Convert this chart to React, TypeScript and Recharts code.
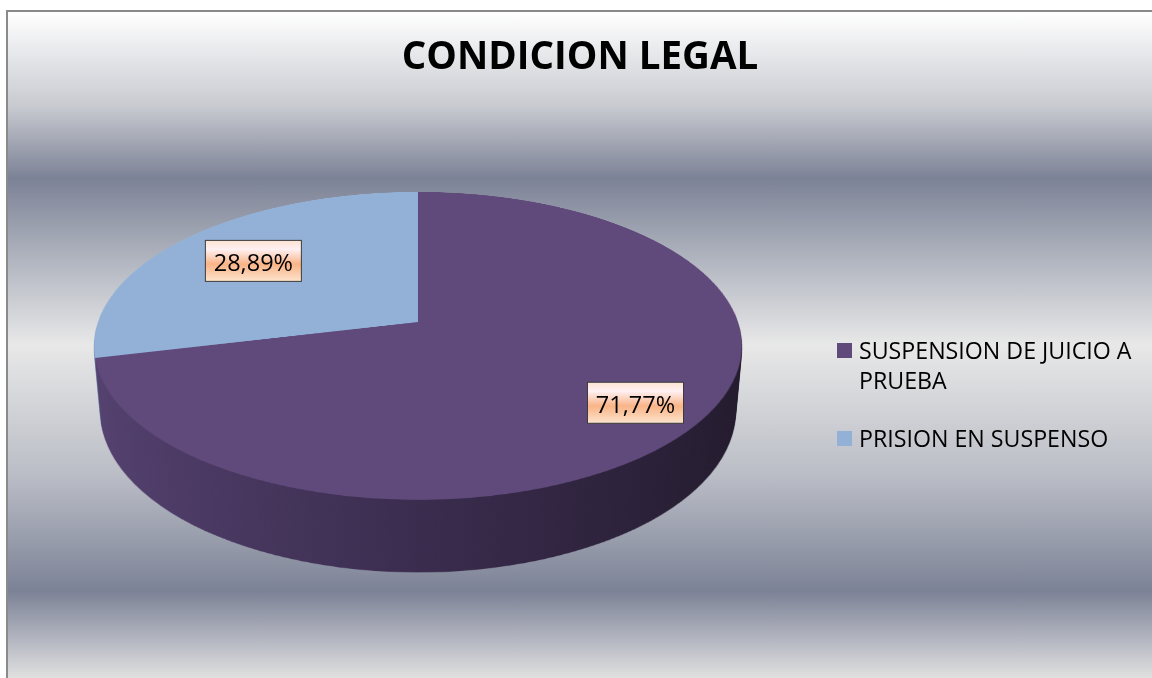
import { PieChart, Pie, Cell, Legend } from "recharts";

// chart data
const categories = ["SUSPENSION DE JUICIO A PRUEBA", "PRISION EN SUSPENSO"];
const shares = [71.77, 28.89];
const topColors = ["#604a7b", "#93b1d7"];
const sideStops = [
  ["#54416f", "#3a2c4e", "#221a2c"],
  ["#7391b8", "#5f7ca2", "#4a6388"],
];
const labelRadius = [0.8, 0.7];

const data = categories.map((name, i) => ({ name, value: shares[i] }));

// 3d geometry of the pie (fitted to the picture)
const R = 320;
const TILT = 62;
const PERSP = 1825;
const DEPTH = 75;
const STEP = 1.5;
const PIE_X = 410;
const PIE_Y = 310;
const BOX = 660;

const sin = Math.sin((TILT * Math.PI) / 180);
const cos = Math.cos((TILT * Math.PI) / 180);

// project a point of the tilted pie plane onto the screen
function project(dx: number, dy: number) {
  const z = dy * sin;
  const k = PERSP / (PERSP - z);
  return { x: dx * k, y: dy * cos * k };
}

const fmt = (v: number) => v.toFixed(2).replace(".", ",") + "%";

function PieLayer({ z, side, id }: { z: number; side: boolean; id: string }) {
  return (
    <div
      style={{
        position: "absolute",
        left: 0,
        top: 0,
        width: BOX,
        height: BOX,
        transform: `translateZ(${-z}px)`,
      }}
    >
      <PieChart width={BOX} height={BOX} margin={{ top: 0, right: 0, bottom: 0, left: 0 }}>
        <defs>
          {sideStops.map((s, i) => (
            <linearGradient key={i} id={`${id}-s${i}`} x1="0" y1="0" x2="1" y2="0">
              <stop offset="0%" stopColor={s[0]} />
              <stop offset="50%" stopColor={s[1]} />
              <stop offset="100%" stopColor={s[2]} />
            </linearGradient>
          ))}
        </defs>
        <Pie
          data={data}
          dataKey="value"
          nameKey="name"
          cx={BOX / 2}
          cy={BOX / 2}
          outerRadius={R}
          startAngle={90}
          endAngle={-270}
          stroke="none"
          isAnimationActive={false}
        >
          {data.map((d, i) => (
            <Cell key={d.name} fill={side ? `url(#${id}-s${i})` : topColors[i]} />
          ))}
        </Pie>
      </PieChart>
    </div>
  );
}

const renderLabel = (p: any) => {
  const a = (-p.midAngle * Math.PI) / 180;
  const r = p.outerRadius * labelRadius[p.index];
  const pt = project(r * Math.cos(a), r * Math.sin(a));
  const x = p.cx + pt.x;
  const y = p.cy + pt.y;
  return (
    <g key={`lbl-${p.index}`}>
      <rect x={x - 48} y={y - 20.5} width={96} height={41} fill="url(#lblGrad)" stroke="#3c3c3c" strokeWidth={1} />
      <text
        x={x}
        y={y + 1}
        textAnchor="middle"
        dominantBaseline="central"
        fontFamily="'Open Sans', sans-serif"
        fontSize={23.5}
        fill="#000"
      >
        {fmt(shares[p.index])}
      </text>
    </g>
  );
};

const renderLegend = () => (
  <div style={{ fontFamily: "'Open Sans', sans-serif", fontSize: 23.2, lineHeight: "30px", color: "#000" }}>
    {categories.map((c, i) => (
      <div key={c} style={{ display: "flex", alignItems: "flex-start", marginBottom: 28 }}>
        <div style={{ width: 15, height: 15, background: topColors[i], marginTop: 8, marginRight: 7, flex: "none" }} />
        <div style={{ width: 286 }}>{c}</div>
      </div>
    ))}
  </div>
);

export default function App() {
  const offsets = Array.from({ length: Math.round(DEPTH / STEP) }, (_, i) => DEPTH - i * STEP);
  return (
    <div
      style={{
        position: "fixed",
        left: 6,
        top: 10,
        width: 1146,
        height: 668,
        boxSizing: "border-box",
        borderTop: "2px solid #8a8a8a",
        borderLeft: "2px solid #8a8a8a",
        overflow: "hidden",
        background:
          "linear-gradient(to bottom, #ffffff 0%, #c9cbd1 14%, #7c8296 25%, #b4b8c2 38%, #e8e8e8 50%, #b9bcc5 70%, #7c8296 87%, #b2b5bf 94%, #e0e0e0 100%)",
      }}
    >
      <div
        style={{
          position: "absolute",
          left: 0,
          top: 0,
          width: "100%",
          height: "100%",
          perspective: `${PERSP}px`,
          perspectiveOrigin: `${PIE_X}px ${PIE_Y}px`,
        }}
      >
        <div
          style={{
            position: "absolute",
            left: PIE_X - BOX / 2,
            top: PIE_Y - BOX / 2,
            width: BOX,
            height: BOX,
            transformStyle: "preserve-3d",
            transform: `rotateX(${TILT}deg)`,
          }}
        >
          {offsets.map((z, i) => (
            <PieLayer key={i} z={z} side id={`side${i}`} />
          ))}
          <PieLayer z={0} side={false} id="top" />
        </div>
      </div>

      <div
        style={{
          position: "absolute",
          left: 0,
          top: 23,
          width: 1144,
          textAlign: "center",
          fontFamily: "'Open Sans', sans-serif",
          fontWeight: 700,
          fontSize: 38.5,
          lineHeight: "38px",
          color: "#000",
          zIndex: 2,
        }}
      >
        CONDICION LEGAL
      </div>

      <div style={{ position: "absolute", left: 0, top: 0, zIndex: 2 }}>
        <PieChart width={1144} height={666} margin={{ top: 0, right: 0, bottom: 0, left: 0 }}>
          <defs>
            <linearGradient id="lblGrad" x1="0" y1="0" x2="0" y2="1">
              <stop offset="0%" stopColor="#fde3d2" />
              <stop offset="22%" stopColor="#fff0f2" />
              <stop offset="58%" stopColor="#f9b487" />
              <stop offset="100%" stopColor="#fde4cd" />
            </linearGradient>
          </defs>
          <Pie
            data={data}
            dataKey="value"
            nameKey="name"
            cx={PIE_X}
            cy={PIE_Y}
            outerRadius={R}
            startAngle={90}
            endAngle={-270}
            stroke="none"
            fillOpacity={0}
            label={renderLabel}
            labelLine={false}
            isAnimationActive={false}
          >
            {data.map((d, i) => (
              <Cell key={d.name} fill={topColors[i]} />
            ))}
          </Pie>
          <Legend
            content={renderLegend}
            wrapperStyle={{ position: "absolute", left: 829, top: 323, width: 312 }}
          />
        </PieChart>
      </div>
    </div>
  );
}
